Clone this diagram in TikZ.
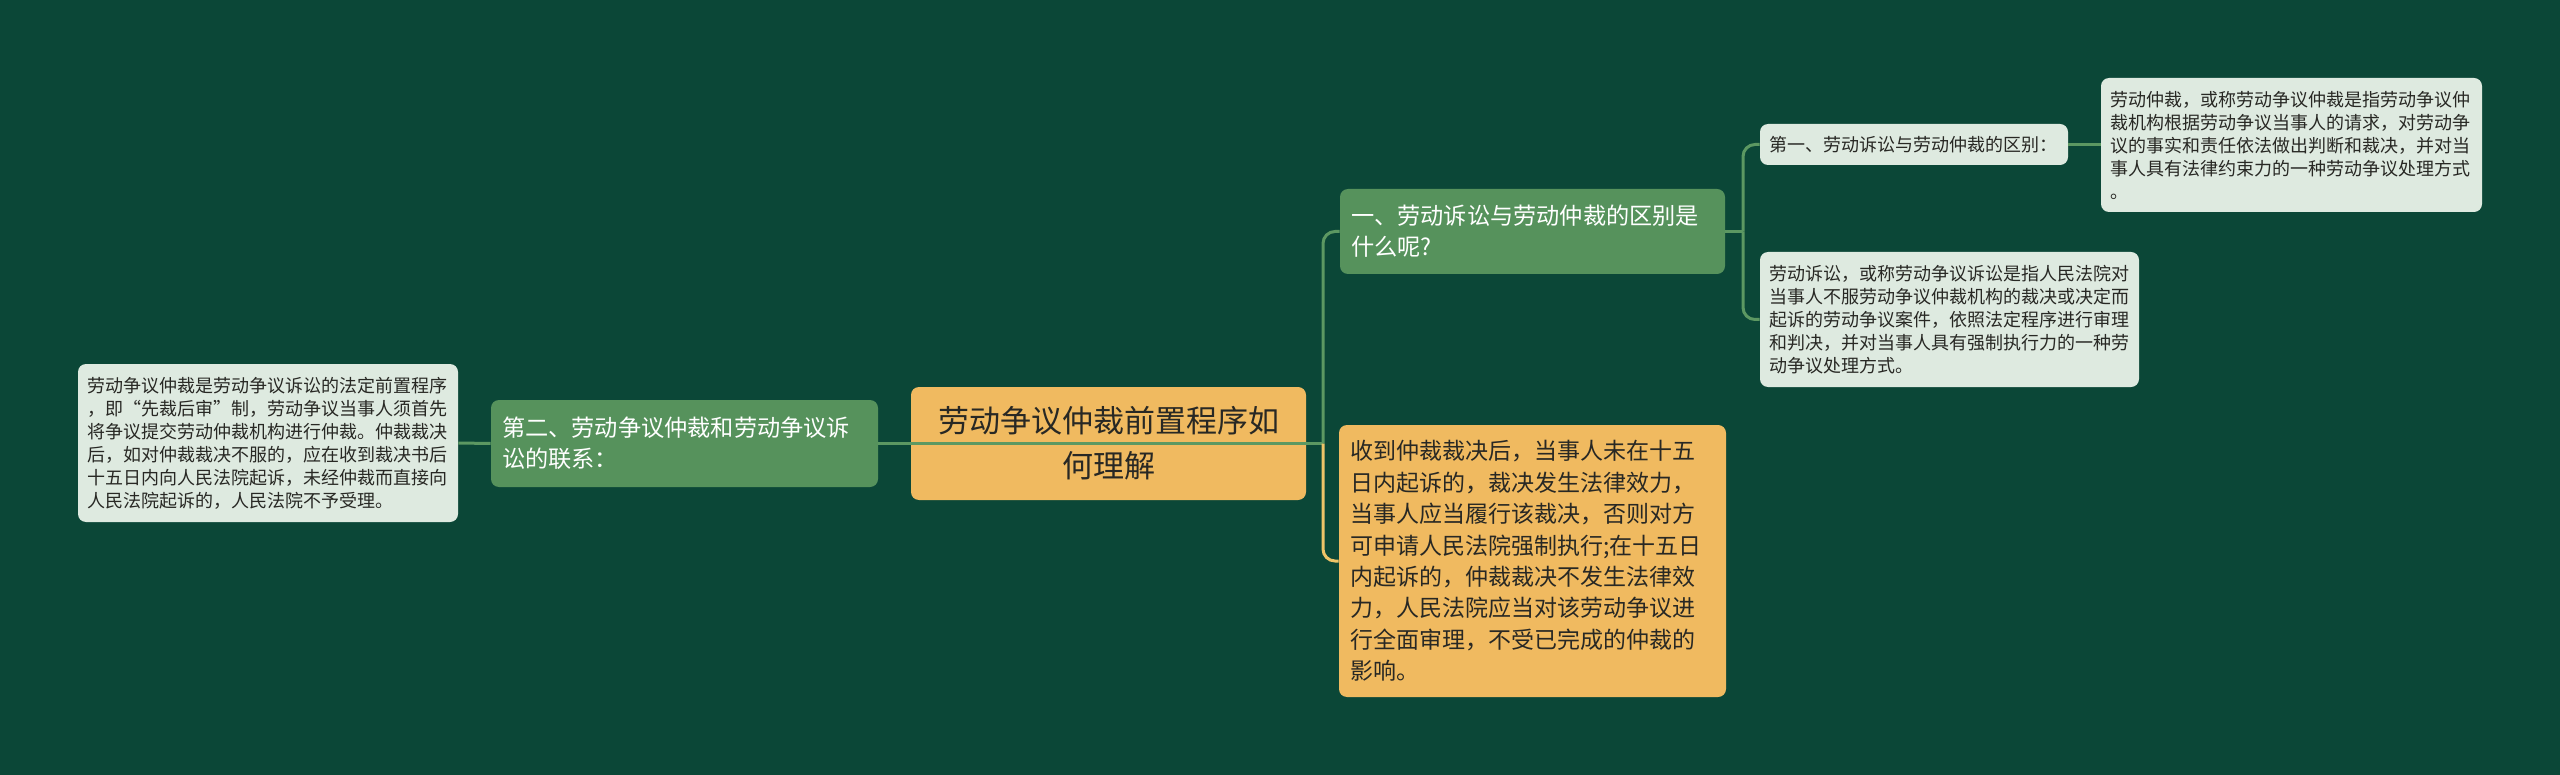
\documentclass[tikz,border=0pt]{standalone}
\usepackage{fontspec}
\setmainfont{Noto Sans CJK SC}
\definecolor{bgcol}{RGB}{11,71,55}
\definecolor{nodegreen}{RGB}{86,146,92}
\definecolor{leafcol}{RGB}{222,234,224}
\definecolor{rootcol}{RGB}{240,186,96}
\definecolor{linkgreen}{RGB}{92,152,98}
\definecolor{linkyellow}{RGB}{238,196,104}
\definecolor{textdark}{RGB}{40,40,36}
\tikzset{
  mapbox/.style={rounded corners=4pt, inner ysep=0pt, anchor=center},
  rootbox/.style={mapbox, fill=rootcol, text=textdark, align=center, inner xsep=5pt,
    font=\fontsize{15.5}{22.5}\selectfont},
  topicbox/.style={mapbox, fill=nodegreen, text=white, align=left, inner xsep=5.5pt,
    font=\fontsize{11.6}{15.5}\selectfont},
  notebox/.style={mapbox, fill=rootcol, text=textdark, align=left, inner xsep=5.5pt,
    font=\fontsize{11.5}{15.7}\selectfont},
  leafbox/.style={mapbox, fill=leafcol, text=textdark, align=left, inner xsep=4.5pt,
    font=\fontsize{9}{11.5}\selectfont},
  link/.style={draw=linkgreen, line width=1.5pt, rounded corners=6pt},
  linky/.style={draw=linkyellow, line width=1.5pt, rounded corners=6pt}
}
\begin{document}
\begin{tikzpicture}[x=0.5pt,y=-0.5pt]
  %% background
  \fill[bgcol] (0,0) rectangle (2560,775);
  \useasboundingbox (0,0) rectangle (2560,775);
  %% centre
  \node[rootbox, text width=187.5pt, minimum height=56.5pt] (root) at (1108.5,443.5)
    {劳动争议仲裁前置程序如\\何理解};
  %% left side
  \node[topicbox, text width=182.5pt, minimum height=43.5pt] (link2) at (684.5,443.5)
    {第二、劳动争议仲裁和劳动争议诉\\讼的联系：};
  \node[leafbox, text width=181pt, minimum height=79pt] (prior) at (268,443)
    {劳动争议仲裁是劳动争议诉讼的法定前置程序\\
     ，即“先裁后审”制，劳动争议当事人须首先\\
     将争议提交劳动仲裁机构进行仲裁。仲裁裁决\\
     后，如对仲裁裁决不服的，应在收到裁决书后\\
     十五日内向人民法院起诉，未经仲裁而直接向\\
     人民法院起诉的，人民法院不予受理。};
  %% right side
  \node[topicbox, text width=181.5pt, minimum height=42.5pt] (diffq) at (1532.5,231.5)
    {一、劳动诉讼与劳动仲裁的区别是\\什么呢?};
  \node[notebox, text width=182.5pt, minimum height=136pt] (award) at (1532.5,561)
    {收到仲裁裁决后，当事人未在十五\\
     日内起诉的，裁决发生法律效力，\\
     当事人应当履行该裁决，否则对方\\
     可申请人民法院强制执行;在十五日\\
     内起诉的，仲裁裁决不发生法律效\\
     力，人民法院应当对该劳动争议进\\
     行全面审理，不受已完成的仲裁的\\
     影响。};
  \node[leafbox, text width=145pt, minimum height=20.5pt] (diff1) at (1914,144.5)
    {第一、劳动诉讼与劳动仲裁的区别：};
  \node[leafbox, text width=181.5pt, minimum height=67pt] (arbdef) at (2291.5,145)
    {劳动仲裁，或称劳动争议仲裁是指劳动争议仲\\
     裁机构根据劳动争议当事人的请求，对劳动争\\
     议的事实和责任依法做出判断和裁决，并对当\\
     事人具有法律约束力的一种劳动争议处理方式\\
     。};
  \node[leafbox, text width=180.5pt, minimum height=67.5pt] (litdef) at (1949.5,319.5)
    {劳动诉讼，或称劳动争议诉讼是指人民法院对\\
     当事人不服劳动争议仲裁机构的裁决或决定而\\
     起诉的劳动争议案件，依照法定程序进行审理\\
     和判决，并对当事人具有强制执行力的一种劳\\
     动争议处理方式。};
  %% connectors
  \coordinate (rfork) at (1323,443.5);
  \coordinate (qfork) at (1743,231.5);
  \draw[link] (prior.east) -- (link2.west);
  \draw[link] (link2.east) -- (root.east);
  \draw[link] (root.east) -- (rfork);
  \draw[link] (rfork) |- (diffq.west);
  \draw[linky] (rfork) |- (award.west);
  \draw[link] (diffq.east) -- (qfork);
  \draw[link] (qfork) |- (diff1.west);
  \draw[link] (qfork) |- (litdef.west);
  \draw[link] (diff1.east) -- (arbdef.west |- diff1.east);
\end{tikzpicture}
\end{document}
